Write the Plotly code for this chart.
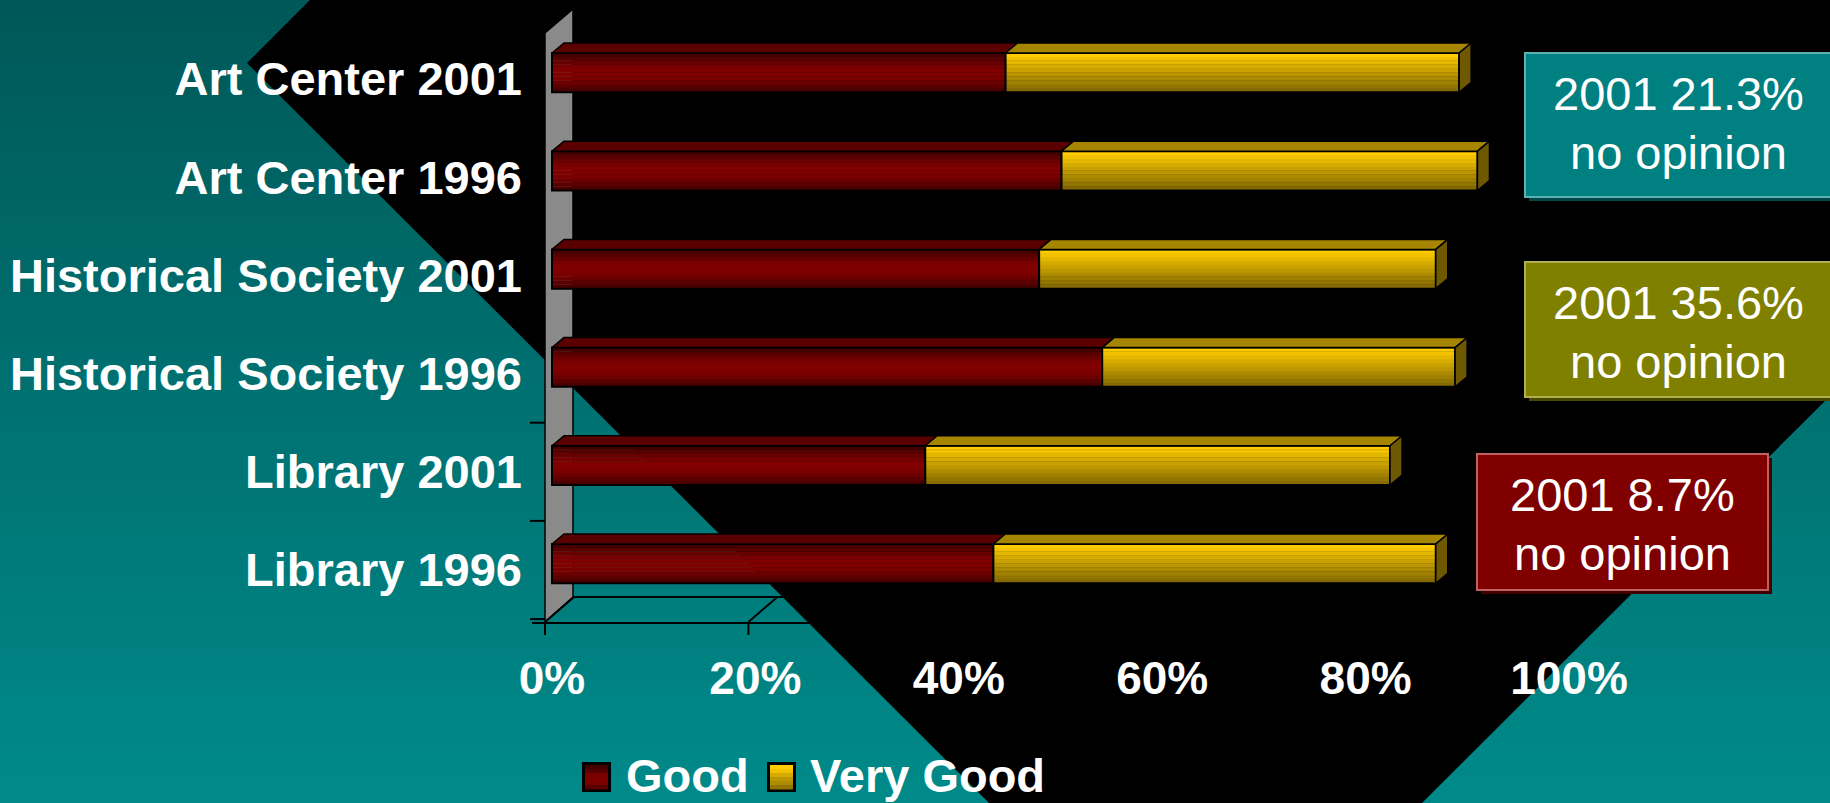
import plotly.graph_objects as go

# ---------------- data ----------------
categories = ["Art Center 2001", "Art Center 1996", "Historical Society 2001",
              "Historical Society 1996", "Library 2001", "Library 1996"]
good = [44.6, 50.1, 47.9, 54.1, 36.7, 43.4]
very_good = [44.6, 40.9, 39.0, 34.7, 45.7, 43.5]
series_names = ["Good", "Very Good"]
x_ticks = [0, 20, 40, 60, 80, 100]
x_tick_labels = ["0%", "20%", "40%", "60%", "80%", "100%"]
note_years = ["2001 21.3%", "2001 35.6%", "2001 8.7%"]
note_caption = "no opinion"

# ---------------- styles ----------------
FONT = "Liberation Sans, Arial, sans-serif"
RED_STRIPES = ["#440000", "#560000", "#680000", "#780000", "#800000",
               "#800000", "#7a0000", "#6c0000", "#5a0000", "#480000"]  # top -> bottom
YEL_STRIPES = ["#ffcc00", "#f2c200", "#e4b700", "#d6ab00", "#c9a100",
               "#bb9600", "#ad8b00", "#a08000", "#927400", "#846a00"]  # top -> bottom
RED_TOP = "#5a0000"
YEL_TOP = "#a68500"
YEL_SIDE = "#6e5800"
NOTE_FILLS = ["#008080", "#808000", "#800000"]
NOTE_EDGES = ["#5fb0b0", "#b0b050", "#c06060"]
NOTE_SHADOWS = ["#004848", "#484800", "#400000"]

W, H = 1830, 803
PL, PR, PT, PB = 532, 1581, 5, 622      # plot area in page pixels
X0PX, XSCALE = 552, 10.17              # px of 0 %, px per %
Y0PX, YSCALE = 570, 98.2               # px of lowest category, px per category


def xd(px):
    return (px - X0PX) / XSCALE


def yd(py):
    return (Y0PX - py) / YSCALE


def pxp(px):
    return (px - PL) / (PR - PL)


def pyp(py):
    return (PB - py) / (PB - PT)


n = len(categories)
ypos = [n - 1 - i for i in range(n)]
totals = [g + v for g, v in zip(good, very_good)]

FACE_OFF = -0.135
FACE_H = 0.40
NS = len(RED_STRIPES)
SW = FACE_H / NS
DX = 12 / XSCALE
DY = 10 / YSCALE

fig = go.Figure()

# front faces as horizontal stripes (gradient)
for base, length, stripes, name in [([0] * n, good, RED_STRIPES, series_names[0]),
                                    (good, very_good, YEL_STRIPES, series_names[1])]:
    for s in range(NS):
        col = stripes[NS - 1 - s]
        fig.add_trace(go.Bar(y=ypos, x=length, base=base, orientation="h",
                             width=SW * 1.08, offset=FACE_OFF + s * SW,
                             marker=dict(color=col, line=dict(width=0)),
                             name=name, showlegend=False, hoverinfo="skip"))
    fig.add_trace(go.Bar(y=ypos, x=length, base=base, orientation="h",
                         width=FACE_H, offset=FACE_OFF,
                         marker=dict(color="rgba(0,0,0,0)", line=dict(color="black", width=2)),
                         name=name, showlegend=False, hoverinfo="skip"))


def top_faces(starts, ends):
    xs, ys = [], []
    for a, b, y in zip(starts, ends, ypos):
        t = y + FACE_OFF + FACE_H
        xs += [a, b, b + DX, a + DX, a, None]
        ys += [t, t, t + DY, t + DY, t, None]
    return xs, ys


for starts, ends, col in [([0] * n, good, RED_TOP), (good, totals, YEL_TOP)]:
    xs, ys = top_faces(starts, ends)
    fig.add_trace(go.Scatter(x=xs, y=ys, mode="lines", fill="toself", fillcolor=col,
                             line=dict(color="black", width=1.5), showlegend=False,
                             hoverinfo="skip"))

sx, sy = [], []
for t, y in zip(totals, ypos):
    bot = y + FACE_OFF
    top = bot + FACE_H
    sx += [t, t, t + DX, t + DX, t, None]
    sy += [bot, top, top + DY, bot + DY, bot, None]
fig.add_trace(go.Scatter(x=sx, y=sy, mode="lines", fill="toself", fillcolor=YEL_SIDE,
                         line=dict(color="black", width=1.5), showlegend=False,
                         hoverinfo="skip"))

# ---------------- decoration shapes ----------------
shapes = []
NB = 60
for b in range(NB):
    y0 = H * b / NB
    y1 = H * (b + 1) / NB + 1
    g = int(round(88 + 0.062 * (y0 + y1) / 2))
    shapes.append(dict(type="rect", xref="paper", yref="paper", layer="below",
                       x0=pxp(-2), x1=pxp(W + 2), y0=pyp(y0), y1=pyp(y1),
                       fillcolor=f"rgb(0,{g},{g})", line=dict(width=0)))

poly = [(310, 0), (W + 2, 0), (W + 2, 394), (1420, H + 2), (991, H + 2), (247, 63)]
path = "M " + " L ".join(f"{pxp(a):.5f},{pyp(b):.5f}" for a, b in poly) + " Z"
shapes.append(dict(type="path", xref="paper", yref="paper", layer="below", path=path,
                   fillcolor="black", line=dict(width=0)))

# side wall
wall = [(545, 622), (545, 33), (573, 9), (573, 597)]
path = "M " + " L ".join(f"{pxp(a):.5f},{pyp(b):.5f}" for a, b in wall) + " Z"
shapes.append(dict(type="path", xref="paper", yref="paper", layer="below", path=path,
                   fillcolor="#8a8a8a", line=dict(color="black", width=1.5)))

# floor: back edge, depth lines and tick marks
shapes.append(dict(type="line", xref="paper", yref="paper", layer="below",
                   x0=pxp(573), x1=pxp(1600), y0=pyp(597), y1=pyp(597),
                   line=dict(color="black", width=2)))
for v in x_ticks:
    fx = X0PX + v * XSCALE - 7
    shapes.append(dict(type="line", xref="paper", yref="paper", layer="below",
                       x0=pxp(fx), x1=pxp(fx + 29), y0=pyp(622), y1=pyp(597),
                       line=dict(color="black", width=2)))
    shapes.append(dict(type="line", xref="paper", yref="paper", layer="below",
                       x0=pxp(fx), x1=pxp(fx), y0=pyp(622), y1=pyp(635),
                       line=dict(color="black", width=2)))
for k in range(n + 1):
    py = Y0PX - YSCALE * (k - 0.5)
    shapes.append(dict(type="line", xref="paper", yref="paper", layer="below",
                       x0=pxp(530), x1=pxp(545), y0=pyp(py), y1=pyp(py),
                       line=dict(color="black", width=2)))

# note boxes
note_boxes = [(1525, 53, 1832, 197), (1525, 262, 1832, 397), (1477, 454, 1768, 590)]
annotations = []
for (x0, y0, x1, y1), fc, ec, sc, txt in zip(note_boxes, NOTE_FILLS, NOTE_EDGES,
                                             NOTE_SHADOWS, note_years):
    shapes.append(dict(type="rect", xref="paper", yref="paper", layer="above",
                       x0=pxp(x0 + 4), x1=pxp(x1 + 4), y0=pyp(y0 + 4), y1=pyp(y1 + 4),
                       fillcolor=sc, line=dict(width=0)))
    shapes.append(dict(type="rect", xref="paper", yref="paper", layer="above",
                       x0=pxp(x0), x1=pxp(x1), y0=pyp(y0), y1=pyp(y1),
                       fillcolor=fc, line=dict(color=ec, width=2)))
    cx = (x0 + x1) / 2 if x1 < W else 1678
    base1 = y0 + 57
    for line_txt, bl in [(txt, base1), (note_caption, base1 + 59)]:
        annotations.append(dict(x=pxp(cx), y=pyp(bl - 16.3), xref="paper", yref="paper",
                                text=line_txt, showarrow=False, xanchor="center",
                                yanchor="middle",
                                font=dict(family=FONT, size=47, color="white")))

# legend (custom, large swatches)
legend_items = [(582, RED_STRIPES, 627, series_names[0]),
                (767, YEL_STRIPES, 811, series_names[1])]
for sx0, stripes, tx, label in legend_items:
    shapes.append(dict(type="rect", xref="paper", yref="paper", layer="above",
                       x0=pxp(sx0), x1=pxp(sx0 + 29), y0=pyp(762), y1=pyp(792),
                       fillcolor="black", line=dict(width=0)))
    hs = 24 / 6
    for j in range(6):
        col = stripes[min(NS - 1, int(j * NS / 6))]
        shapes.append(dict(type="rect", xref="paper", yref="paper", layer="above",
                           x0=pxp(sx0 + 3), x1=pxp(sx0 + 26),
                           y0=pyp(765 + j * hs), y1=pyp(765 + (j + 1) * hs + 0.5),
                           fillcolor=col, line=dict(width=0)))
    annotations.append(dict(x=pxp(tx - 2), y=pyp(792 - 16.3), xref="paper", yref="paper",
                            text=f"<b>{label}</b>", showarrow=False, xanchor="left",
                            yanchor="middle", borderpad=0,
                            font=dict(family=FONT, size=47, color="white")))

fig.update_layout(
    width=W, height=H, autosize=False,
    margin=dict(l=PL, r=W - PR, t=PT, b=H - PB, pad=0),
    paper_bgcolor="#007070", plot_bgcolor="rgba(0,0,0,0)",
    barmode="overlay", showlegend=False,
    shapes=shapes, annotations=annotations,
    xaxis=dict(range=[xd(PL), xd(PR)], tickvals=x_ticks, ticktext=x_tick_labels,
               showgrid=False, zeroline=False, showline=True, linecolor="black",
               linewidth=2, ticks="", ticklabelstandoff=15,
               tickfont=dict(family=FONT, size=46, color="white", weight="bold")),
    yaxis=dict(range=[yd(PB), yd(PT)], tickvals=ypos, ticktext=categories,
               showgrid=False, zeroline=False, showline=False, ticks="",
               ticklabelstandoff=9,
               tickfont=dict(family=FONT, size=47, color="white", weight="bold")),
)

fig.write_html(
    "out.html",
    config={"displayModeBar": False},
    post_script="document.body.style.margin='0px';document.body.style.padding='0px';"
                "document.body.style.overflow='hidden';",
)
